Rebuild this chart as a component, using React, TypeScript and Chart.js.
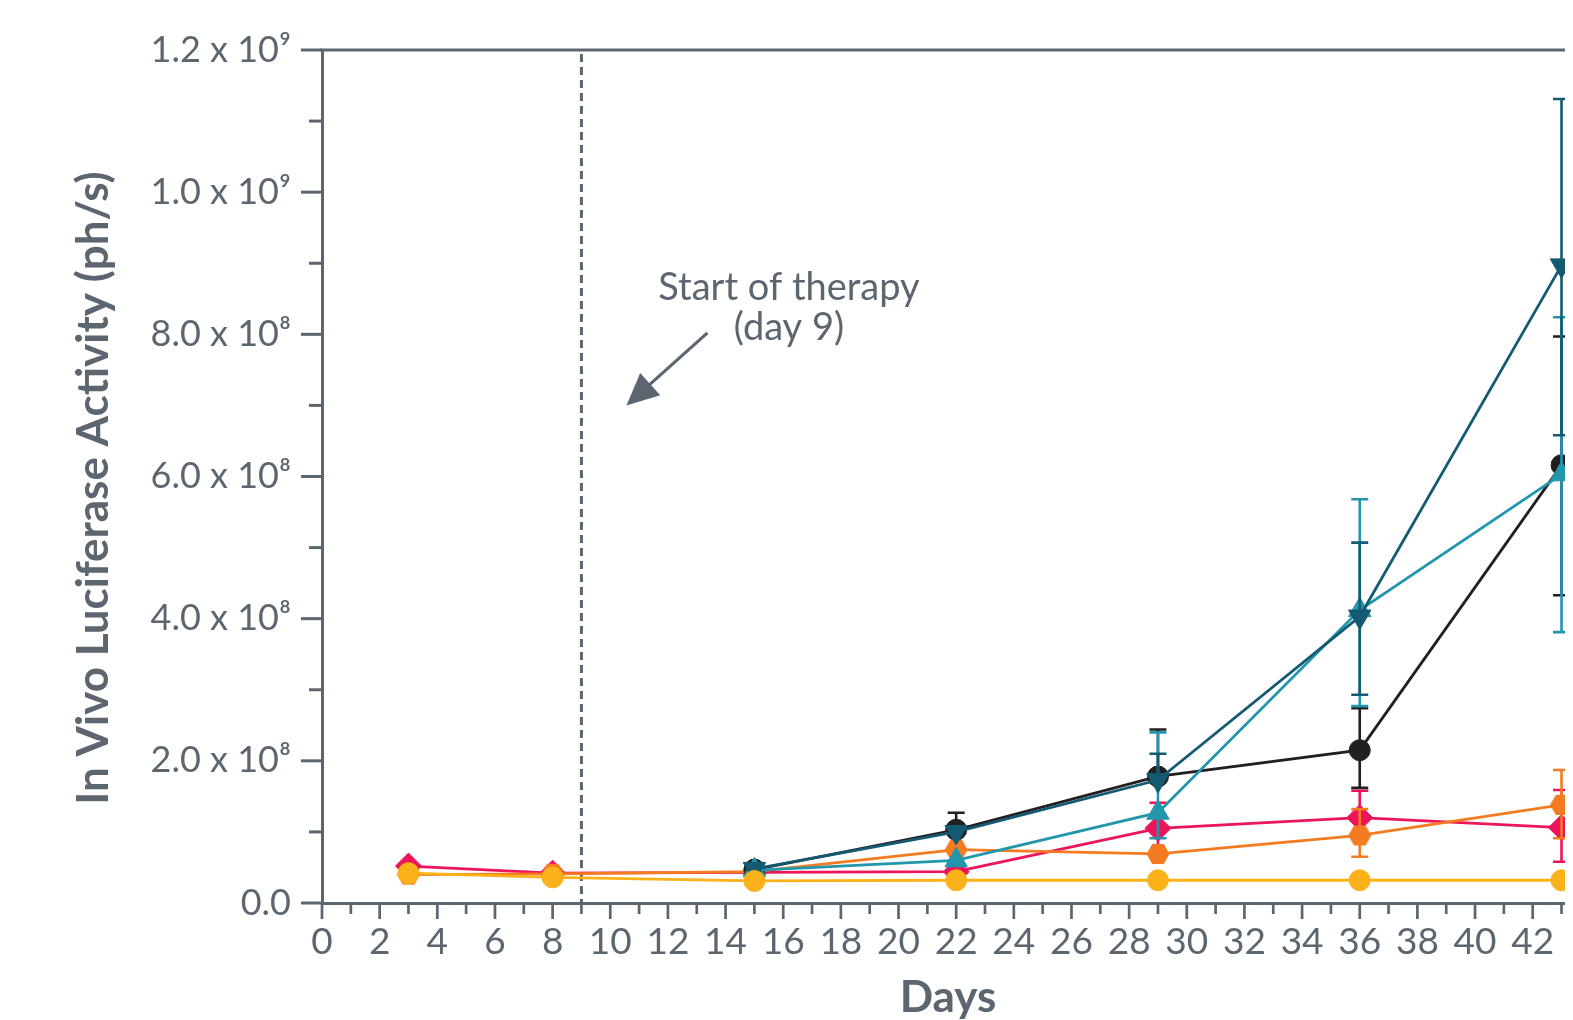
import React, { useEffect, useRef } from "react";
import { Chart, registerables } from "chart.js";

Chart.register(...registerables);

const GRAY = "#5b6670";
const FONT = "Lato";

// ---- data ----
const earlyDays = [3, 8, 15, 22, 29, 36, 43];
const lateDays = [15, 22, 29, 36, 43];

const yellowVals = [0.42e8, 0.36e8, 0.31e8, 0.32e8, 0.32e8, 0.32e8, 0.32e8];

const orangeVals = [0.4e8, 0.41e8, 0.44e8, 0.75e8, 0.69e8, 0.95e8, 1.38e8];
const orangeHi = [null, null, null, null, null, 1.32e8, 1.87e8];
const orangeLo = [null, null, null, null, null, 0.65e8, 0.91e8];

const pinkVals = [0.52e8, 0.42e8, 0.43e8, 0.44e8, 1.05e8, 1.2e8, 1.06e8];
const pinkHi = [null, null, null, null, 1.41e8, 1.58e8, 1.59e8];
const pinkLo = [null, null, null, null, 0.72e8, 0.9e8, 0.58e8];

const lightTealVals = [0.46e8, 0.6e8, 1.27e8, 4.12e8, 6.03e8];
const lightTealHi = [null, null, 2.4e8, 5.68e8, 8.24e8];
const lightTealLo = [null, null, 0.91e8, 2.77e8, 3.81e8];

const darkTealVals = [0.48e8, 1.0e8, 1.73e8, 4.03e8, 8.97e8];
const darkTealHi = [null, null, 2.1e8, 5.07e8, 11.31e8];
const darkTealLo = [null, null, null, 2.93e8, 6.58e8];

const blackVals = [0.47e8, 1.03e8, 1.78e8, 2.15e8, 6.16e8];
const blackHi = [null, 1.27e8, 2.44e8, 2.74e8, 7.97e8];
const blackLo = [null, null, null, 1.62e8, 4.33e8];

const yTickLabels = ["0.0", "2.0 x 10⁸", "4.0 x 10⁸", "6.0 x 10⁸", "8.0 x 10⁸", "1.0 x 10⁹", "1.2 x 10⁹"];

const X_TITLE = "Days";
const Y_TITLE = "In Vivo Luciferase Activity (ph/s)";
const X_MAX = 46;
const Y_MAX = 1.2e9;
const THERAPY_DAY = 9;
const annoLines = ["Start of therapy", "(day 9)"];
const annoTextX = 16.2;
const annoLineYs = [8.48e8, 7.92e8];
const arrowFrom = { x: 13.37, y: 8.02e8 };
const arrowTo = { x: 10.56, y: 7.0e8 };

const COLORS = {
  yellow: "#fbb21a",
  orange: "#f47b20",
  pink: "#ec145a",
  lightTeal: "#2196ad",
  darkTeal: "#135a72",
  black: "#231f20",
};

function pts(days: number[], vals: number[]) {
  return days.map((d, i) => ({ x: d, y: vals[i] }));
}

function makeHexagon(color: string) {
  const c = document.createElement("canvas");
  const s = 24;
  c.width = s;
  c.height = s;
  const ctx = c.getContext("2d")!;
  const r = 11.5;
  ctx.fillStyle = color;
  ctx.beginPath();
  for (let k = 0; k < 6; k++) {
    const a = (Math.PI / 3) * k;
    const px = s / 2 + r * Math.cos(a);
    const py = s / 2 + r * Math.sin(a);
    if (k === 0) ctx.moveTo(px, py);
    else ctx.lineTo(px, py);
  }
  ctx.closePath();
  ctx.fill();
  return c;
}

const errorBars = {
  id: "errorBars",
  beforeDatasetDraw(chart: any, args: any) {
    const ds: any = chart.data.datasets[args.index];
    if (!ds.errHi) return;
    const { ctx, scales } = chart;
    const x = scales.x;
    const y = scales.y;
    ctx.save();
    ctx.strokeStyle = ds.borderColor;
    ctx.lineWidth = 2.6;
    ds.data.forEach((p: any, i: number) => {
      const hi = ds.errHi[i];
      const lo = ds.errLo[i];
      if (hi == null && lo == null) return;
      const px = x.getPixelForValue(p.x);
      const top = y.getPixelForValue(hi ?? p.y);
      const bot = y.getPixelForValue(lo ?? p.y);
      ctx.beginPath();
      ctx.moveTo(px, top);
      ctx.lineTo(px, bot);
      if (hi != null) {
        ctx.moveTo(px - 8.5, top);
        ctx.lineTo(px + 8.5, top);
      }
      if (lo != null) {
        ctx.moveTo(px - 8.5, bot);
        ctx.lineTo(px + 8.5, bot);
      }
      ctx.stroke();
    });
    ctx.restore();
  },
};

const decor = {
  id: "decor",
  beforeDatasetsDraw(chart: any) {
    const { ctx, chartArea: ca, scales } = chart;
    const x = scales.x;
    const y = scales.y;
    ctx.save();
    ctx.strokeStyle = GRAY;
    ctx.fillStyle = GRAY;
    // top frame line
    ctx.lineWidth = 3;
    ctx.beginPath();
    ctx.moveTo(ca.left - 1.5, ca.top);
    ctx.lineTo(ca.right, ca.top);
    ctx.stroke();
    // y ticks
    for (let k = 0; k <= 12; k++) {
      const py = y.getPixelForValue(k * 1e8);
      const len = k % 2 === 0 ? 21 : 13;
      ctx.beginPath();
      ctx.moveTo(ca.left - len, py);
      ctx.lineTo(ca.left, py);
      ctx.stroke();
    }
    // x ticks
    ctx.lineWidth = 2.7;
    for (let d = 0; d <= X_MAX; d++) {
      const px = x.getPixelForValue(d);
      const len = d % 2 === 0 ? 16 : 11;
      ctx.beginPath();
      ctx.moveTo(px, ca.bottom);
      ctx.lineTo(px, ca.bottom + len);
      ctx.stroke();
    }
    // dashed therapy line
    ctx.lineWidth = 3;
    ctx.setLineDash([8, 5]);
    const tx = x.getPixelForValue(THERAPY_DAY);
    ctx.beginPath();
    ctx.moveTo(tx, ca.top + 4);
    ctx.lineTo(tx, ca.bottom);
    ctx.stroke();
    ctx.setLineDash([]);
    // annotation text
    ctx.font = `38px ${FONT}`;
    ctx.textAlign = "center";
    ctx.textBaseline = "alphabetic";
    annoLines.forEach((t, i) => {
      ctx.fillText(t, x.getPixelForValue(annoTextX), y.getPixelForValue(annoLineYs[i]));
    });
    // arrow
    const ax0 = x.getPixelForValue(arrowFrom.x);
    const ay0 = y.getPixelForValue(arrowFrom.y);
    const ax1 = x.getPixelForValue(arrowTo.x);
    const ay1 = y.getPixelForValue(arrowTo.y);
    const dx = ax1 - ax0;
    const dy = ay1 - ay0;
    const L = Math.hypot(dx, dy);
    const ux = dx / L;
    const uy = dy / L;
    const headLen = 32;
    const headHalf = 15;
    const bx = ax1 - ux * headLen;
    const by = ay1 - uy * headLen;
    ctx.lineWidth = 3.2;
    ctx.beginPath();
    ctx.moveTo(ax0, ay0);
    ctx.lineTo(bx + ux * 2, by + uy * 2);
    ctx.stroke();
    ctx.beginPath();
    ctx.moveTo(ax1, ay1);
    ctx.lineTo(bx - uy * headHalf, by + ux * headHalf);
    ctx.lineTo(bx + uy * headHalf, by - ux * headHalf);
    ctx.closePath();
    ctx.fill();
    // axis titles
    ctx.font = `bold 44px ${FONT}`;
    ctx.textAlign = "center";
    ctx.textBaseline = "middle";
    ctx.fillText(X_TITLE, ca.left + 626, 990);
    ctx.save();
    ctx.translate(86, 480);
    ctx.rotate(-Math.PI / 2);
    ctx.fillText(Y_TITLE, 0, 0);
    ctx.restore();
    ctx.restore();
  },
};

export default function App() {
  const ref = useRef<HTMLCanvasElement | null>(null);

  useEffect(() => {
    document.documentElement.style.overflow = "hidden";
    const canvas = ref.current;
    if (!canvas) return;
    const hex = makeHexagon(COLORS.orange);

    const mk = (label: string, color: string, data: any[], hi: any[] | null, lo: any[] | null, style: any, radius: number, rotation = 0) => ({
      label,
      data,
      borderColor: color,
      backgroundColor: color,
      pointBackgroundColor: color,
      pointBorderColor: color,
      pointBorderWidth: 1,
      pointStyle: style,
      pointRadius: radius,
      pointRotation: rotation,
      borderWidth: 2.8,
      tension: 0,
      fill: false,
      errHi: hi,
      errLo: lo,
    });

    const chart = new Chart(canvas, {
      type: "line",
      data: {
        datasets: [
          mk("Yellow", COLORS.yellow, pts(earlyDays, yellowVals), null, null, "circle", 10.5),
          mk("Dark teal", COLORS.darkTeal, pts(lateDays, darkTealVals), darkTealHi, darkTealLo, "triangle", 13, 180),
          mk("Light teal", COLORS.lightTeal, pts(lateDays, lightTealVals), lightTealHi, lightTealLo, "triangle", 13),
          mk("Black", COLORS.black, pts(lateDays, blackVals), blackHi, blackLo, "circle", 10.5),
          mk("Orange", COLORS.orange, pts(earlyDays, orangeVals), orangeHi, orangeLo, hex, 12),
          mk("Pink", COLORS.pink, pts(earlyDays, pinkVals), pinkHi, pinkLo, "rectRot", 13),
        ] as any,
      },
      options: {
        responsive: false,
        animation: false,
        devicePixelRatio: 1,
        events: [],
        layout: { padding: { left: 0, top: 42, right: 60, bottom: 0 } },
        plugins: { legend: { display: false }, tooltip: { enabled: false } },
        scales: {
          x: {
            type: "linear",
            min: 0,
            max: X_MAX,
            grid: { display: false, drawTicks: false },
            border: { display: true, color: GRAY, width: 3 },
            ticks: {
              stepSize: 2,
              autoSkip: false,
              maxRotation: 0,
              minRotation: 0,
              padding: 17,
              color: GRAY,
              font: { family: FONT, size: 37 },
              callback: (v: any) => String(v),
            },
            title: { display: false },
            afterFit: (s: any) => {
              s.height = 135;
              s.paddingLeft = 0;
              s.paddingRight = 0;
            },
          },
          y: {
            type: "linear",
            min: 0,
            max: Y_MAX,
            grid: { display: false, drawTicks: false },
            border: { display: true, color: GRAY, width: 3 },
            ticks: {
              stepSize: 2e8,
              padding: 31,
              color: GRAY,
              font: { family: FONT, size: 36 },
              callback: (_v: any, i: number) => yTickLabels[i],
            },
            title: { display: false },
            afterFit: (s: any) => {
              s.width = 314;
              s.paddingTop = 0;
              s.paddingBottom = 0;
            },
          },
        },
      } as any,
      plugins: [decor, errorBars],
    });
    return () => chart.destroy();
  }, []);

  return (
    <div style={{ width: 1565, height: 1012, overflow: "hidden" }}>
      <canvas ref={ref} width={1700} height={1030} style={{ display: "block", width: 1700, height: 1030 }} />
    </div>
  );
}
